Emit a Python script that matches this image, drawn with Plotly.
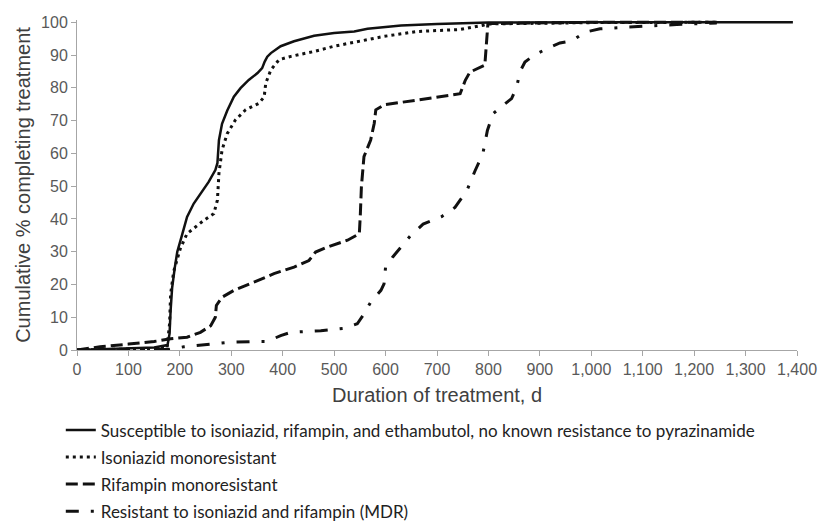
import plotly.graph_objects as go

# ---- data ----
sus_x = [0, 50, 100, 150, 176, 180, 182, 185, 190, 195, 205, 214, 227, 240, 256, 269, 273, 276, 282, 292,
         305, 318, 334, 351, 360, 365, 370, 377, 396, 422, 461, 500, 539, 565, 630, 700, 800, 1000, 1200, 1392]
sus_y = [0, 0.3, 0.5, 0.8, 1.5, 5, 12, 19, 25, 30, 35.5, 40.6, 44.7, 47.8, 51.3, 54.9, 57, 64, 69, 73,
         77.3, 79.9, 82.4, 84.5, 86, 88, 89.5, 90.6, 92.7, 94.2, 95.9, 96.7, 97.2, 98, 99, 99.5, 99.9, 100, 100, 100]

inh_x = [0, 100, 175, 180, 182, 188, 201, 214, 231, 247, 266, 273, 276, 282, 292, 308, 328, 354, 364, 367,
         377, 393, 416, 461, 500, 552, 597, 662, 745, 790, 800, 1000, 1244]
inh_y = [0, 0.2, 0.5, 8, 17, 24, 31, 35.5, 37.6, 39.6, 41.6, 45.7, 53.9, 61, 66, 70.2, 73.3, 75.3, 77.3, 81.4,
         85.5, 88.6, 89.6, 91.1, 92.7, 94.2, 95.7, 97.2, 97.8, 99.1, 99.5, 99.9, 100]

rif_x = [0, 45, 100, 150, 182, 214, 240, 260, 269, 271, 282, 305, 344, 383, 422, 451, 464, 487, 526, 549,
         551, 553, 558, 571, 578, 581, 597, 662, 745, 755, 764, 793, 797, 799, 1000, 1244]
rif_y = [0, 1, 1.8, 2.6, 3.4, 3.9, 5.4, 7.4, 10, 13.6, 16.1, 18.2, 20.7, 23.3, 25.3, 27.3, 29.9, 31.4, 33.5, 35.5,
         41.6, 49.8, 59, 64.1, 69.2, 73.3, 74.8, 76.3, 78.2, 82.3, 84.8, 86.9, 96.5, 99.6, 100, 100]

mdr_x = [0, 100, 180, 208, 253, 292, 344, 370, 396, 416, 474, 519, 545, 558, 571, 591, 597, 600, 614, 636,
         649, 673, 709, 735, 758, 774, 789, 798, 809, 832, 845, 855, 861, 871, 891, 920, 939, 963, 988, 1017,
         1060, 1112, 1166, 1192, 1244]
mdr_y = [0, 0, 0.2, 1, 1.8, 2.3, 2.6, 2.6, 4.4, 5.4, 5.9, 6.6, 8, 11, 14.6, 18.2, 20.2, 25.3, 28.4, 32.4,
         35, 38.4, 40.7, 43.5, 48.6, 54.7, 59.8, 67, 72.1, 75.1, 76.7, 80.2, 84.8, 87.9, 90.2, 92.4, 93.7, 94.4, 97, 98,
         98.5, 98.9, 99.3, 99.5, 99.8]

series_names = [
    "Susceptible to isoniazid, rifampin, and ethambutol, no known resistance to pyrazinamide",
    "Isoniazid monoresistant",
    "Rifampin monoresistant",
    "Resistant to isoniazid and rifampin (MDR)",
]

x_tick_vals = [0, 100, 200, 300, 400, 500, 600, 700, 800, 900, 1000, 1100, 1200, 1300, 1400]
x_tick_text = ["0", "100", "200", "300", "400", "500", "600", "700", "800", "900",
               "1,000", "1,100", "1,200", "1,300", "1,400"]
y_tick_vals = [0, 10, 20, 30, 40, 50, 60, 70, 80, 90, 100]

x_title = "Duration of treatment, d"
y_title = "Cumulative % completing treatment"

# ---- figure ----
styles = [
    dict(width=2.5, dash="solid"),
    dict(width=3, dash="3px,4px"),
    dict(width=3, dash="12px,5px"),
    dict(width=3, dash="13px,12px,3px,12px"),
]
data = [(sus_x, sus_y), (inh_x, inh_y), (rif_x, rif_y), (mdr_x, mdr_y)]

fig = go.Figure()
for i, ((xs, ys), name, st) in enumerate(zip(data, series_names, styles)):
    fig.add_trace(go.Scatter(
        x=xs, y=ys, mode="lines", name=name,
        legendgroup=f"g{i}",
        line=dict(color="#111111", width=st["width"], dash=st["dash"]),
        hoverinfo="skip",
    ))

axis_font = "Arial, Liberation Sans, sans-serif"
axis_common = dict(
    showline=True, linecolor="#a6a6a6", linewidth=1,
    ticks="outside", ticklen=5, tickcolor="#a6a6a6", tickwidth=1,
    showgrid=False, zeroline=False,
    tickfont=dict(family=axis_font, size=16, color="#595959"),
)

fig.update_layout(
    width=818, height=522,
    margin=dict(l=77, r=21, t=20, b=172, autoexpand=False),
    paper_bgcolor="white", plot_bgcolor="white",
    showlegend=True,
    legend=dict(
        orientation="v", x=-0.0225, xanchor="left", y=-0.189, yanchor="top",
        font=dict(family="Lato, Noto Sans, sans-serif", size=17, color="#222222"),
        traceorder="grouped", tracegroupgap=2,
        bgcolor="rgba(0,0,0,0)", borderwidth=0,
    ),
    xaxis=dict(
        range=[0, 1400], tickvals=x_tick_vals, ticktext=x_tick_text,
        title=dict(text=x_title, standoff=10,
                   font=dict(family=axis_font, size=20, color="#404040")),
        **axis_common,
    ),
    yaxis=dict(
        range=[0, 100.7], tickvals=y_tick_vals,
        title=dict(text=y_title, standoff=5,
                   font=dict(family=axis_font, size=20, color="#404040")),
        **axis_common,
    ),
)

fig.write_html(
    "out.html",
    config={"displayModeBar": False},
    post_script="document.body.style.margin='0';document.body.style.overflow='hidden';",
)
